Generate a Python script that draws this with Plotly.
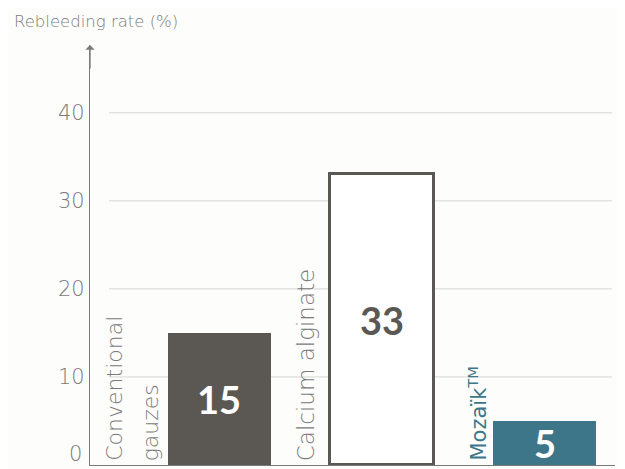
import plotly.graph_objects as go

categories = ["Conventional gauzes", "Calcium alginate", "Mozaïk"]
values = [15, 33, 5]
value_labels = ["15", "33", "5"]
tick_values = [0, 10, 20, 30, 40]
tick_labels = ["0", "10", "20", "30", "40"]
y_title = "Rebleeding rate (%)"

DARK = "#5b5753"
TEAL = "#3d7689"
GRAY = "#7a7a7a"
GRID = "#d6d6d6"
BG = "#fdfdfb"
FONT = "DejaVu Sans"
BOLD = "Lato"

xpos = list(range(len(categories)))
fills = [DARK, "#ffffff", TEAL]
lines = [DARK, DARK, TEAL]
line_w = [0, 3, 0]
text_cols = ["#ffffff", DARK, "#ffffff"]
tick_font = dict(family=FONT, size=21, color=GRAY, weight=200)

fig = go.Figure()
fig.add_trace(go.Bar(
    x=xpos, y=values, width=0.635,
    marker=dict(color=fills, line=dict(color=lines, width=line_w)),
    hoverinfo="skip", showlegend=False,
))

# value labels centered in bars
for x, v, t, c in zip(xpos, values, value_labels, text_cols):
    fig.add_annotation(x=x, y=v / 2, text=f"<b>{t}</b>", showarrow=False,
                       font=dict(family=BOLD, size=38, color=c),
                       xanchor="center", yanchor="middle")

# gridlines (excluding 0)
for tv in tick_values[1:]:
    fig.add_shape(type="line", xref="x", yref="y", x0=-0.677, x1=2.415,
                  y0=tv, y1=tv, line=dict(color=GRID, width=1), layer="below")

# "0" tick label sits just above the baseline
fig.add_annotation(xref="paper", yref="y", x=0, xshift=-6, y=tick_values[0],
                   text=tick_labels[0], showarrow=False, xanchor="right",
                   yanchor="bottom", yshift=-3, font=tick_font)

# rotated category labels
label_font = dict(family=FONT, size=22, color=GRAY, weight=200)
fig.add_annotation(x=-0.645, y=0, text="Conventional", textangle=-90, showarrow=False,
                   font=label_font, xanchor="center", yanchor="bottom", yshift=2)
fig.add_annotation(x=-0.42, y=0, text="gauzes", textangle=-90, showarrow=False,
                   font=label_font, xanchor="center", yanchor="bottom", yshift=2)
fig.add_annotation(x=0.535, y=0, text="Calcium alginate", textangle=-90, showarrow=False,
                   font=dict(family=FONT, size=23, color=GRAY, weight=200),
                   xanchor="center", yanchor="bottom", yshift=2)
fig.add_annotation(x=1.585, y=0, text="Mozaïk<sup>TM</sup>", textangle=-90, showarrow=False,
                   font=dict(family=FONT, size=21, color=TEAL), xanchor="center",
                   yanchor="bottom", yshift=2)

# y-axis arrow head
fig.add_annotation(xref="paper", yref="paper", x=0, y=1, ax=0, ay=25,
                   text="", showarrow=True,
                   arrowhead=1, arrowsize=1.2, arrowwidth=1.3, arrowcolor=GRAY)

fig.add_annotation(xref="paper", yref="paper", x=0, xshift=-78, y=1.0, yshift=24,
                   text=y_title, showarrow=False, xanchor="left", yanchor="middle",
                   font=dict(family=FONT, size=16.5, color=GRAY, weight=200))

fig.update_layout(
    width=617, height=461,
    margin=dict(l=82, r=10, t=37, b=4, autoexpand=False),
    paper_bgcolor=BG, plot_bgcolor=BG,
    xaxis=dict(range=[-0.794, 2.433], showticklabels=False, showgrid=False,
               zeroline=False, showline=True, linecolor=GRAY, linewidth=1.3,
               fixedrange=True, automargin=False),
    yaxis=dict(range=[0, 47.7], tickvals=tick_values[1:], ticktext=tick_labels[1:],
               showgrid=False, zeroline=False, showline=True, linecolor=GRAY,
               linewidth=1.3, ticks="", ticklabelstandoff=0,
               automargin=False, tickfont=tick_font),
    bargap=0,
)

fig.write_html("out.html")
